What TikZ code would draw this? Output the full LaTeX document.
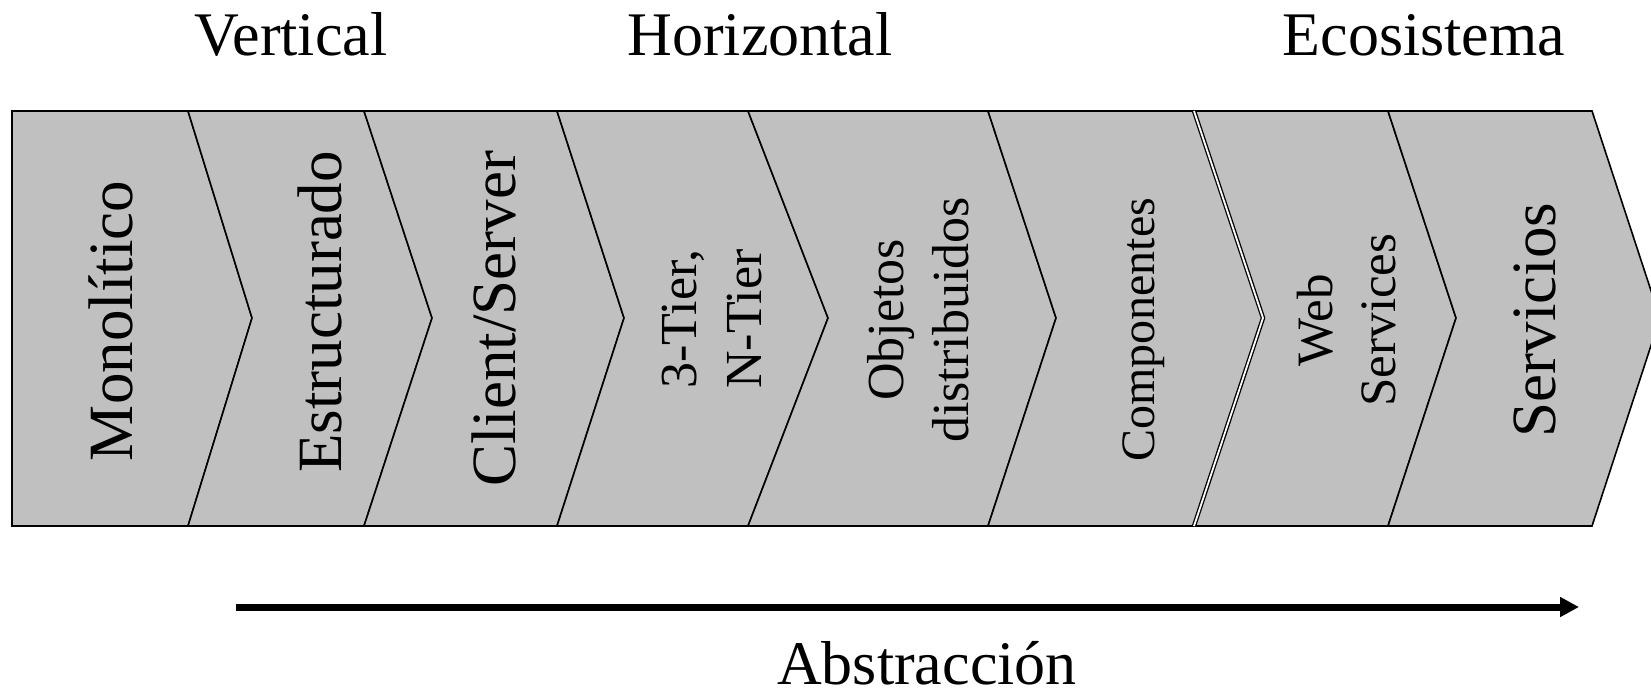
\documentclass[tikz,border=0pt]{standalone}
\usepackage{fontspec}
\setmainfont{Liberation Serif}
\usetikzlibrary{arrows.meta}

\definecolor{chevgray}{RGB}{192,192,192}

\tikzset{
  chev/.style={fill=chevgray,draw=black,line width=1.6pt},
  splitline/.style={draw=black,line width=1.3pt,double=white,double distance=1.8pt},
  headlabel/.style={anchor=base,inner sep=0pt,font=\fontsize{62}{74}\selectfont},
  biglabel/.style={rotate=90,inner sep=0pt,font=\fontsize{63}{76}\selectfont},
  twolabel/.style={rotate=90,inner sep=0pt,align=center,font=\fontsize{52}{65}\selectfont},
  abstrarrow/.style={line width=7pt,-{Triangle[length=19pt,width=19pt]}}
}

\begin{document}
\begin{tikzpicture}[x=1pt,y=-1pt]
\clip (0,0) rectangle (1651,699);

\filldraw[chev] (12,111) -- (188,111) -- (252,318) -- (188,526) -- (12,526) -- cycle;
\filldraw[chev] (188,111) -- (364,111) -- (432,318) -- (364,526) -- (188,526) -- (252,318) -- cycle;
\filldraw[chev] (364,111) -- (557,111) -- (624,318) -- (557,526) -- (364,526) -- (432,318) -- cycle;
\filldraw[chev] (557,111) -- (748,111) -- (828,318) -- (748,526) -- (557,526) -- (624,318) -- cycle;
\filldraw[chev] (748,111) -- (988,111) -- (1056,318) -- (988,526) -- (748,526) -- (828,318) -- cycle;
\filldraw[chev] (988,111) -- (1194,111) -- (1263,318) -- (1194,526) -- (988,526) -- (1056,318) -- cycle;
\filldraw[chev] (1194,111) -- (1388,111) -- (1456,318) -- (1388,526) -- (1194,526) -- (1263,318) -- cycle;
\filldraw[chev] (1388,111) -- (1592,111) -- (1660,318) -- (1592,526) -- (1388,526) -- (1456,318) -- cycle;
\draw[splitline] (1194,111) -- (1263,318) -- (1194,526);

\node[headlabel] (vertical) at (291,55) {Vertical};
\node[headlabel] (horizontal) at (760,55) {Horizontal};
\node[headlabel] (ecosistema) at (1424,55) {Ecosistema};

\node[biglabel] (monolitico) at (111,321) {Monolítico};
\node[biglabel] (estructurado) at (320,312) {Estructurado};
\node[biglabel] (clientserver) at (494,319) {Client/Server};
\node[twolabel] (ntier) at (712,319) {3-Tier,\\N-Tier};
\node[twolabel] (objetos) at (918,320) {Objetos\\distribuidos};
\node[rotate=90,inner sep=0pt,font=\fontsize{48}{58}\selectfont] (componentes) at (1144,330) {Componentes};
\node[twolabel,font=\fontsize{51}{63}\selectfont] (webservices) at (1347,320) {Web\\Services};
\node[biglabel] (servicios) at (1535,320) {Servicios};

\coordinate (abstrstart) at (236,607);
\coordinate (abstrend) at (1579,607);
\draw[abstrarrow] (abstrstart) -- (abstrend);
\node[headlabel] (abstraccion) at (927,684) {Abstracción};
\end{tikzpicture}
\end{document}
